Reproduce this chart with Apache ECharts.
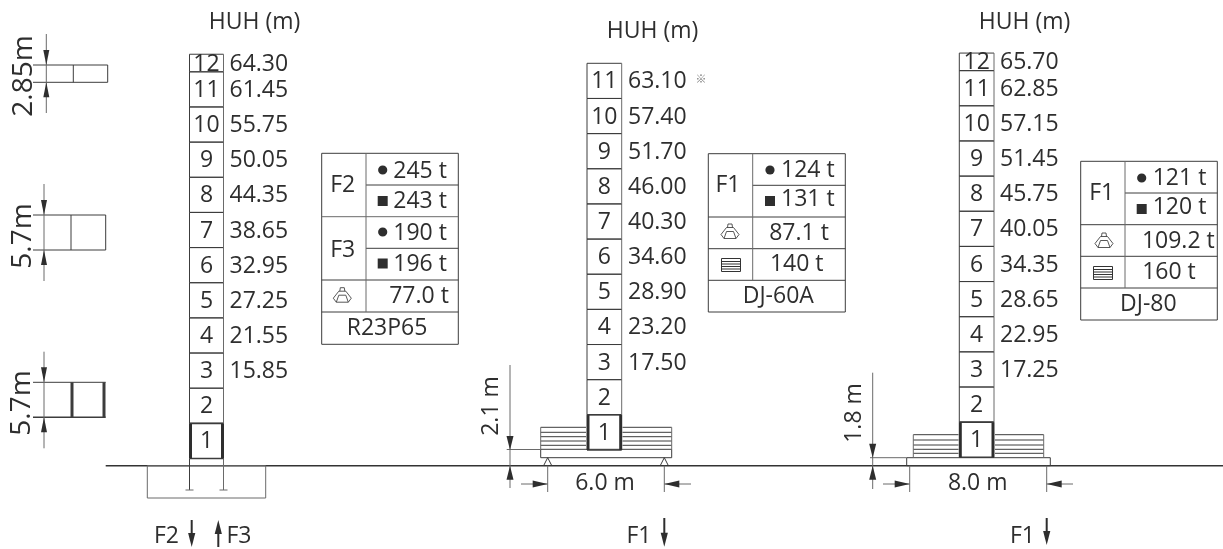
<!DOCTYPE html>
<html>
<head>
<meta charset="utf-8">
<script src="https://cdn.jsdelivr.net/npm/echarts@6/dist/echarts.min.js"></script>
<style>html,body{margin:0;padding:0;background:#fff}#c{width:1223px;height:549px}</style>
</head>
<body>
<div id="c"></div>
<script>
// ---- data ----
const towerNames = ['R23P65', 'DJ-60A', 'DJ-80'];
const huhR23 = ['15.85','21.55','27.25','32.95','38.65','44.35','50.05','55.75','61.45','64.30'];
const huhDJ60 = ['17.50','23.20','28.90','34.60','40.30','46.00','51.70','57.40','63.10'];
const huhDJ80 = ['17.25','22.95','28.65','34.35','40.05','45.75','51.45','57.15','62.85','65.70'];
const sectionsR23 = [5.7,5.7,5.7,5.7,5.7,5.7,5.7,5.7,5.7,5.7,5.7,2.85];
const sectionsDJ60 = [5.7,5.7,5.7,5.7,5.7,5.7,5.7,5.7,5.7,5.7,5.7];
const sectionsDJ80 = [5.7,5.7,5.7,5.7,5.7,5.7,5.7,5.7,5.7,5.7,5.7,2.85];
const baseHeights = [1.17, 2.55, 1.36];
const loadsR23 = ['245 t','243 t','190 t','196 t','77.0 t'];
const loadsDJ60 = ['124 t','131 t','87.1 t','140 t'];
const loadsDJ80 = ['121 t','120 t','109.2 t','160 t'];

// ---- layout ----
const PX_PER_M = 6.167, GROUND = 465.7, WIN_H = 549;
const INK = '#2e2e2e', LINE = '#3c3c3c', SOFT = '#6a6a6a';
const FONT = '"Open Sans","Noto Sans",sans-serif';
const BASE_SIZE = 23, TEXT_DY = 1;
const marks = [];
const L = (pts, w, c) => marks.push({k:'l', pts, w:w||1, c:c||LINE});
const P = (pts, c, open) => marks.push({k:'p', pts, c:c||INK, open});
const T = (s, x, y, o) => marks.push(Object.assign({k:'t', s, x, y, size:BASE_SIZE, align:'center'}, o||{}));
const C = (x, y, r) => marks.push({k:'c', x, y, r});
const box = (x0,y0,x1,y1,w,c) => L([[x0,y0],[x1,y0],[x1,y1],[x0,y1],[x0,y0]],w,c);
const arrowV = (x, tip, dir, len, hw) => P([[x,tip],[x-(hw||3),tip-dir*(len||15)],[x+(hw||3),tip-dir*(len||15)]]);
const arrowH = (tip, y, dir, len) => P([[tip,y],[tip-dir*(len||15),y-3.5],[tip-dir*(len||15),y+3.5]]);

// ground
L([[105.7,GROUND],[1223,GROUND]],1.4,'#333');

// left mini sections
L([[33,65],[107.7,65],[107.7,82.3],[33,82.3]]); L([[73.3,65],[73.3,82.3]]);
L([[46.3,34],[46.3,113]],1,SOFT); arrowV(46.3,65,1); arrowV(46.3,82.3,-1);
T('2.85m',24,76,{size:28,rot:true});
L([[33,215],[105.7,215],[105.7,250],[33,250]]); L([[71,215],[71,250]]);
L([[44,184],[44,281]],1,SOFT); arrowV(44,215,1); arrowV(44,250,-1);
T('5.7m',23,236,{size:28,rot:true});
L([[33,382.3],[105.7,382.3]]); L([[33,417.3],[105.7,417.3]],1.4);
L([[72,382.3],[72,417.3]],3); L([[104,382.3],[104,417.3]],3);
L([[44,351.7],[44,448.3]],1,SOFT); arrowV(44,382.3,1); arrowV(44,417.3,-1);
T('5.7m',22,403,{size:28,rot:true});

// HUH titles
T('HUH (m)',254.5,21); T('HUH (m)',652.5,30); T('HUH (m)',1024.5,21);

// foundation of R23P65
box(147.3,GROUND,265.7,498,1,SOFT);
[189.5,223.5].forEach(x=>{L([[x,458.5],[x,490]],1,x>200?SOFT:LINE);L([[x-4,490],[x+4,490]],1,SOFT);});
T('F2',166.5,535); T('F3',239,535);
L([[191.7,520],[191.7,540]],2,INK); arrowV(191.7,547,1,14,3.6);
L([[218.3,527],[218.3,547]],2,INK); arrowV(218.3,520,-1,14,3.6);

// DJ-60A base
box(540.7,449.3,671.7,457.7,1);
[427.3,432.3,436.7,441,445.3].forEach(y=>{L([[540.7,y],[586,y]],1);L([[622.5,y],[671.7,y]],1);});
L([[540.7,427.3],[540.7,449.3]],1,SOFT);L([[671.7,427.3],[671.7,449.3]],1,SOFT);
[547.7,664.3].forEach(x=>{L([[x-4,465.5],[x,457.7],[x+4,465.5]],1);L([[x,465.7],[x,492]],1,SOFT);});
L([[510,365],[510,488]],1,SOFT); L([[506.7,449.5],[541,449.5]],1,SOFT);
arrowV(510,450,1,14,3.5); arrowV(510,465.7,-1,14,3.5);
T('2.1 m',491.7,406,{rot:true});
T('6.0 m',605,482);
L([[521,484],[547.7,484]],1,SOFT); arrowH(547.7,484,1);
L([[691,484],[664.3,484]],1,SOFT); arrowH(664.3,484,-1);
T('F1',639,535.7);
L([[664.3,518],[664.3,535]],2,INK); arrowV(664.3,546.7,1,14,3.6);

// DJ-80 base
box(906.7,457.7,1050.3,465.7,1);
[434.7,440,445,449.3,453.3].forEach(y=>{L([[913.3,y],[958.5,y]],1);L([[995,y],[1043.7,y]],1);});
L([[913.3,434.7],[913.3,457.7]],1,SOFT);L([[1043.7,434.7],[1043.7,457.7]],1,SOFT);
L([[872.7,372.7],[872.7,489]],1,SOFT); L([[870,457.7],[906.7,457.7]],1,SOFT);
arrowV(872.7,457.7,1,14,3.5); arrowV(872.7,465.7,-1,14,3.5);
T('1.8 m',854,413,{rot:true});
[909.7,1046.7].forEach(x=>L([[x,465.7],[x,492]],1,SOFT));
T('8.0 m',977.7,482);
L([[883,484],[909.7,484]],1,SOFT); arrowH(909.7,484,1);
L([[1073,484],[1046.7,484]],1,SOFT); arrowH(1046.7,484,-1);
T('F1',1022.5,535.7);
L([[1046.7,518],[1046.7,533]],2,INK); arrowV(1046.7,545,1,14,3.6);

// table helpers
function crawler(x,y){
  y-=0.5;
  L([[x-9,y+3],[x-3.5,y-4],[x+3.5,y-4],[x+9,y+3],[x+6,y+7],[x-6,y+7],[x-9,y+3]],.9,'#444');
  L([[x-3.5,y],[x+3.5,y],[x+6,y+7]],.9,'#444'); L([[x-3.5,y],[x-6,y+7]],.9,'#444');
  L([[x-2.5,y-4],[x-2,y-7.5],[x+2,y-7.5],[x+2.5,y-4]],.9,'#444');
}
function weight(x,y){
  box(x-9.5,y-6.5,x+9.5,y+6.5,1,'#333');
  [-3.5,-1,1.5,4].forEach(d=>L([[x-9.5,y+d],[x+9.5,y+d]],1,'#333'));
}
const bullet=(x,y)=>C(x,y,4.6);
const square=(x,y)=>P([[x-5,y-5],[x+5,y-5],[x+5,y+5],[x-5,y+5]]);

// R23P65 table
(function(){
  const x0=321.7,x1=458.3,xs=366,ys=[153.3,185,216.7,248.3,280,312,344.3];
  box(x0,ys[0],x1,ys[6]);
  [1,3].forEach(i=>L([[xs,ys[i]],[x1,ys[i]]]));
  [2,4,5].forEach(i=>L([[x0,ys[i]],[x1,ys[i]]],1,i==2?SOFT:LINE));
  L([[xs,ys[0]],[xs,ys[5]]],1,SOFT);
  T('F2',342.7,184.3); T('F3',342.7,249.3);
  bullet(382.7,170); square(382.7,201); bullet(382.7,232); square(382.7,263.5);
  const lx=393.3;
  T(loadsR23[0],lx,170,{align:'left'}); T(loadsR23[1],lx,200,{align:'left'});
  T(loadsR23[2],lx,232,{align:'left'}); T(loadsR23[3],lx,263,{align:'left'});
  T(loadsR23[4],419,295); crawler(342.3,295.7);
  T(towerNames[0],387,327.7);
})();
// DJ-60A table
(function(){
  const x0=708.3,x1=845.3,xs=752.7,ys=[153.7,185.3,217,248.7,280.3,312];
  box(x0,ys[0],x1,ys[5]);
  L([[xs,ys[1]],[x1,ys[1]]]);
  [2,3,4].forEach(i=>L([[x0,ys[i]],[x1,ys[i]]]));
  L([[xs,ys[0]],[xs,ys[4]]],1,SOFT);
  T('F1',728,184.3);
  bullet(770,170); square(770,201);
  T(loadsDJ60[0],781,169.5,{align:'left'}); T(loadsDJ60[1],781,198.5,{align:'left'});
  T(loadsDJ60[2],799,232); crawler(730,232);
  T(loadsDJ60[3],796.7,263); weight(731,265);
  T(towerNames[1],778.3,295.7);
})();
// DJ-80 table
(function(){
  const x0=1080.7,x1=1217.3,xs=1125,ys=[161.3,193,224.7,256.3,288,320];
  box(x0,ys[0],x1,ys[5]);
  L([[xs,ys[1]],[x1,ys[1]]]);
  [2,3,4].forEach(i=>L([[x0,ys[i]],[x1,ys[i]]]));
  L([[xs,ys[0]],[xs,ys[4]]],1,SOFT);
  T('F1',1101.7,192.7);
  bullet(1141.7,178); square(1141.7,209);
  T(loadsDJ80[0],1152.7,177,{align:'left'}); T(loadsDJ80[1],1152.7,206,{align:'left'});
  T(loadsDJ80[2],1178.3,240); crawler(1104,241);
  T(loadsDJ80[3],1169,271.7); weight(1103,273);
  T(towerNames[2],1148.3,303.3);
})();
T('※',701,78,{size:11,c:'#777',font:'"Noto Sans CJK JP"'});

// tower sections in metres: [x0, x1, bottom m, top m, section no, HUH label, HUH label x]
function towerRows(x0,x1,base,sections,huh,labelX){
  let b=base;
  return sections.map((h,i)=>{
    const row=[x0,x1,b,b+h,i+1,i>=2?huh[i-2]:'',labelX];
    b+=h; return row;
  });
}
const towerData=[].concat(
  towerRows(189.5,223.5,baseHeights[0],sectionsR23,huhR23,229.5),
  towerRows(587,621.7,baseHeights[1],sectionsDJ60,huhDJ60,628),
  towerRows(959.3,994,baseHeights[2],sectionsDJ80,huhDJ80,1000)
);

function textEl(s,x,y,o){
  o=o||{};
  const el={type:'text',silent:true,x:x,y:o.rot?y:y+TEXT_DY,style:{text:s,x:0,y:0,fill:o.c||INK,
    font:(o.size||BASE_SIZE)+'px '+(o.font||FONT),textAlign:o.align||'center',textVerticalAlign:'middle',
    align:o.align||'center',verticalAlign:'middle'}};
  if(o.rot) el.rotation=Math.PI/2;
  return el;
}
function renderMark(params,api){
  const m=marks[api.value(0)];
  const c=p=>api.coord([p[0],p[1]]);
  if(m.k==='l') return {type:'polyline',silent:true,shape:{points:m.pts.map(c)},style:{stroke:m.c,lineWidth:m.w,fill:null}};
  if(m.k==='p') return {type:'polygon',silent:true,shape:{points:m.pts.map(c)},style:{fill:m.c}};
  if(m.k==='c'){const q=c([m.x,m.y]);return {type:'circle',silent:true,shape:{cx:q[0],cy:q[1],r:m.r},style:{fill:INK}};}
  const q=c([m.x,m.y]);
  return textEl(m.s,q[0],q[1],m);
}
function renderSection(params,api){
  const x0=api.value(0),x1=api.value(1),b=api.value(2),t=api.value(3),n=api.value(4);
  const row=towerData[params.dataIndex];
  const a=api.coord([x0,t]),z=api.coord([x1,b]);
  const mid=(a[1]+z[1])/2;
  const kids=[];
  kids.push({type:'line',silent:true,shape:{x1:a[0],y1:a[1],x2:z[0],y2:a[1]},style:{stroke:LINE,lineWidth:n===1?1.6:1}});
  kids.push({type:'line',silent:true,shape:{x1:a[0],y1:z[1],x2:z[0],y2:z[1]},style:{stroke:LINE,lineWidth:n===1?1.6:1}});
  if(n===1){
    kids.push({type:'line',silent:true,shape:{x1:a[0]+1,y1:a[1],x2:a[0]+1,y2:z[1]},style:{stroke:INK,lineWidth:3}});
    kids.push({type:'line',silent:true,shape:{x1:z[0]-1,y1:a[1],x2:z[0]-1,y2:z[1]},style:{stroke:INK,lineWidth:3}});
  }else{
    kids.push({type:'line',silent:true,shape:{x1:a[0],y1:a[1],x2:a[0],y2:z[1]},style:{stroke:LINE,lineWidth:1}});
    kids.push({type:'line',silent:true,shape:{x1:z[0],y1:a[1],x2:z[0],y2:z[1]},style:{stroke:SOFT,lineWidth:1}});
  }
  kids.push(textEl(String(n),(a[0]+z[0])/2,mid,{}));
  if(row[5]) kids.push(textEl(row[5],row[6],mid,{align:'left'}));
  return {type:'group',children:kids};
}

const chart=echarts.init(document.getElementById('c'),null,{renderer:'canvas'});
chart.setOption({
  animation:false,
  backgroundColor:'#fff',
  grid:{left:0,right:0,top:0,bottom:0},
  xAxis:{type:'value',min:0,max:1223,show:false},
  yAxis:[
    {type:'value',min:(GROUND-WIN_H)/PX_PER_M,max:GROUND/PX_PER_M,show:false},
    {type:'value',min:0,max:WIN_H,inverse:true,show:false}
  ],
  tooltip:{show:false},
  series:[
    {type:'custom',name:'drawing',yAxisIndex:1,clip:false,silent:true,renderItem:renderMark,
     encode:{x:0,y:1},data:marks.map((m,i)=>[i,0])},
    {type:'custom',name:'towers',yAxisIndex:0,clip:false,silent:true,renderItem:renderSection,
     encode:{x:[0,1],y:[2,3]},data:towerData}
  ]
});
</script>
</body>
</html>
